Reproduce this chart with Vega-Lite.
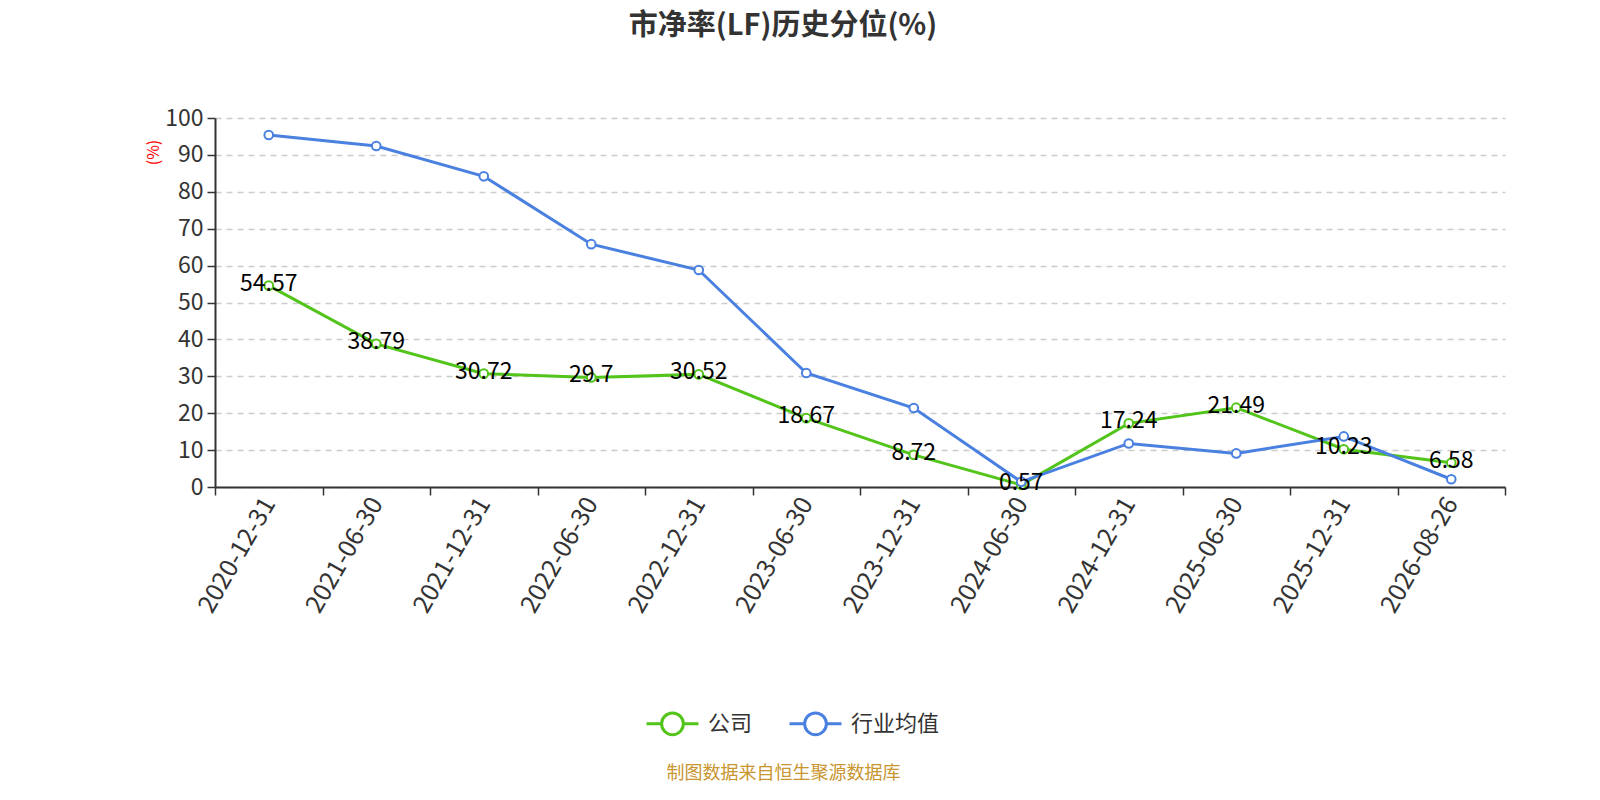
{
  "$schema": "https://vega.github.io/schema/vega-lite/v6.json",
  "width": 1290,
  "height": 369,
  "autosize": "none",
  "padding": {"left": 215, "top": 118, "right": 95, "bottom": 313},
  "background": "#ffffff",
  "view": {"stroke": null},
  "config": {
    "font": "Noto Sans CJK SC"
  },
  "title": {
    "text": "市净率(LF)历史分位(%)",
    "fontSize": 29,
    "fontWeight": "bold",
    "color": "#333333",
    "anchor": "middle",
    "dx": -77,
    "offset": 66,
    "font": "Noto Sans CJK SC"
  },
  "data": {
    "values": [
      {"date": "2020-12-31", "series": "公司", "value": 54.57},
      {"date": "2021-06-30", "series": "公司", "value": 38.79},
      {"date": "2021-12-31", "series": "公司", "value": 30.72},
      {"date": "2022-06-30", "series": "公司", "value": 29.7},
      {"date": "2022-12-31", "series": "公司", "value": 30.52},
      {"date": "2023-06-30", "series": "公司", "value": 18.67},
      {"date": "2023-12-31", "series": "公司", "value": 8.72},
      {"date": "2024-06-30", "series": "公司", "value": 0.57},
      {"date": "2024-12-31", "series": "公司", "value": 17.24},
      {"date": "2025-06-30", "series": "公司", "value": 21.49},
      {"date": "2025-12-31", "series": "公司", "value": 10.23},
      {"date": "2026-08-26", "series": "公司", "value": 6.58},
      {"date": "2020-12-31", "series": "行业均值", "value": 95.4},
      {"date": "2021-06-30", "series": "行业均值", "value": 92.4},
      {"date": "2021-12-31", "series": "行业均值", "value": 84.2},
      {"date": "2022-06-30", "series": "行业均值", "value": 65.8},
      {"date": "2022-12-31", "series": "行业均值", "value": 58.8},
      {"date": "2023-06-30", "series": "行业均值", "value": 30.9},
      {"date": "2023-12-31", "series": "行业均值", "value": 21.4},
      {"date": "2024-06-30", "series": "行业均值", "value": 1.4},
      {"date": "2024-12-31", "series": "行业均值", "value": 11.8},
      {"date": "2025-06-30", "series": "行业均值", "value": 9.1},
      {"date": "2025-12-31", "series": "行业均值", "value": 13.7},
      {"date": "2026-08-26", "series": "行业均值", "value": 2.1}
    ]
  },
  "encoding": {
    "x": {
      "field": "date",
      "type": "nominal",
      "sort": null,
      "scale": {"type": "band", "paddingInner": 0, "paddingOuter": 0},
      "axis": {
        "tickBand": "extent",
        "labelAngle": -60,
        "labelAlign": "right",
        "labelBaseline": "middle",
        "labelFontSize": 25,
        "labelColor": "#333333",
        "labelPadding": 4,
        "tickSize": 8,
        "tickColor": "#333333",
        "domainColor": "#333333",
        "domainWidth": 2,
        "tickWidth": 1.5,
        "grid": false,
        "title": "制图数据来自恒生聚源数据库",
        "titleColor": "#c8952e",
        "titleFontSize": 18,
        "titleFontWeight": "normal",
        "titleX": 568,
        "titleY": 286,
        "titleAlign": "center",
        "titleBaseline": "middle"
      }
    },
    "y": {
      "field": "value",
      "type": "quantitative",
      "scale": {"domain": [0, 100]},
      "axis": {
        "values": [0, 10, 20, 30, 40, 50, 60, 70, 80, 90, 100],
        "labelFontSize": 23,
        "labelColor": "#333333",
        "labelPadding": 4,
        "tickSize": 8,
        "tickColor": "#333333",
        "tickWidth": 1.5,
        "domainColor": "#333333",
        "domainWidth": 2,
        "grid": true,
        "gridColor": "#cccccc",
        "gridDash": [6, 5],
        "gridWidth": 1.5,
        "title": "(%)",
        "titleColor": "#ff0000",
        "titleFontSize": 16,
        "titleFontWeight": "normal",
        "titleX": -62,
        "titleY": 34,
        "titleAngle": -90,
        "titleAlign": "center",
        "titleBaseline": "middle"
      }
    },
    "color": {
      "field": "series",
      "type": "nominal",
      "scale": {"domain": ["公司", "行业均值"], "range": ["#52c41a", "#4a80e0"]},
      "legend": {
        "title": null,
        "orient": "none",
        "direction": "horizontal",
        "legendX": 430,
        "legendY": 578,
        "symbolType": "M-1,0L-0.42,0M0.42,0L1,0M-0.42,0A0.42,0.42 0 1,0 0.42,0A0.42,0.42 0 1,0 -0.42,0",
        "symbolSize": 2700,
        "symbolStrokeWidth": 3,
        "symbolFillColor": "#ffffff",
        "labelFontSize": 22,
        "labelColor": "#333333",
        "labelOffset": 8,
        "columnPadding": 30
      }
    }
  },
  "layer": [
    {
      "mark": {"type": "line", "strokeWidth": 3}
    },
    {
      "mark": {"type": "point", "shape": "circle", "filled": false, "fill": "#ffffff", "fillOpacity": 1, "size": 75, "strokeWidth": 2, "opacity": 1}
    },
    {
      "transform": [{"filter": "datum.series === '公司'"}],
      "mark": {"type": "text", "fontSize": 23, "color": "#000000", "align": "center", "baseline": "middle", "dy": -2},
      "encoding": {
        "text": {"field": "value", "type": "quantitative"},
        "color": {"value": "#000000"}
      }
    }
  ]
}
